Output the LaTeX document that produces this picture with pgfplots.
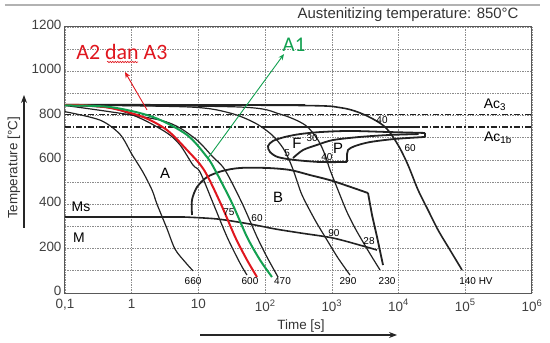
\documentclass[border=0pt]{standalone}
\usepackage{pgfplots}
\pgfplotsset{compat=1.18}
\usepackage{fontspec}
\setmainfont{Liberation Sans}
\newfontfamily\calib{Carlito}
\usetikzlibrary{arrows.meta,decorations.pathmorphing}
\definecolor{crv}{HTML}{222222}
\definecolor{lab}{HTML}{5A5A5A}
\definecolor{myred}{HTML}{E0161E}
\definecolor{mygreen}{HTML}{12A050}
\begin{document}
\begin{tikzpicture}
\useasboundingbox (-65bp,-50bp) rectangle (485bp,293bp);
\begin{axis}[
  at={(0,0)}, anchor=south west,
  scale only axis, width=467bp, height=266bp,
  xmin=-1, xmax=6, ymin=0, ymax=1200,
  xtick={-1,0,...,6},
  xticklabels={{0,1},1,10,10\textsuperscript{2},10\textsuperscript{3},10\textsuperscript{4},10\textsuperscript{5},10\textsuperscript{6}},
  ytick={0,200,...,1200},
  minor ytick={100,300,...,1100},
  grid=both,
  major grid style={draw=black!45, line width=0.7bp, dash pattern=on 1.2bp off 1.3bp},
  minor grid style={draw=black!45, line width=0.7bp, dash pattern=on 1.2bp off 1.3bp},
  tick style={draw=none},
  axis line style={draw=black!65, line width=1bp},
  tick label style={font=\fontsize{13.5}{16}\selectfont, text=black!75},
  xticklabel style={yshift=-3bp},
  yticklabel style={yshift=2bp},
  /pgf/number format/assume math mode=true,
  /pgf/number format/set thousands separator={},
  clip=true,
  every node/.append style={text=lab, font=\fontsize{12.5}{14}\selectfont},
]
% Ac lines
\addplot[crv, line width=1.5bp, dash pattern=on 6bp off 2bp on 1.5bp off 2bp] coordinates {(-1,805) (6,805)};
\addplot[crv, line width=1.8bp, dash pattern=on 6bp off 2bp on 1.5bp off 2bp] coordinates {(-1,749) (6,749)};
\addplot[crv, line width=1.8bp] coordinates {(2.0,749) (4.292,749)};
% 850 line
\addplot[crv, line width=2bp] coordinates {(-1,850) (2.6,850)};
% cooling curves
\addplot[crv, line width=1.2bp, smooth] coordinates {(-1,818) (-0.475,780) (-0.176,716) (0.004,625) (0.169,545) (0.304,465) (0.379,401) (0.529,290) (0.649,198) (0.8,140) (0.919,100)};
\addplot[crv, line width=1.2bp, smooth] coordinates {(-1,846) (-0.325,835) (0.124,789) (0.529,722) (0.724,668) (0.919,577) (1.024,546) (1.219,406) (1.429,253) (1.623,135) (1.728,81)};
\addplot[crv, line width=1.2bp, smooth] coordinates {(-1,846) (0.424,780) (0.919,704) (1.219,613) (1.398,555) (1.653,406) (1.878,253) (2.028,162) (2.193,72)};
\addplot[crv, line width=1.2bp, smooth] coordinates {(-1,848) (0.874,839) (1.473,812) (1.848,767) (2.103,713) (2.268,654) (2.373,591) (2.448,532) (2.553,442) (2.748,329) (2.927,239) (3.092,158) (3.272,81)};
\addplot[crv, line width=1.2bp, smooth] coordinates {(-1,848) (1.623,839) (2.223,807) (2.598,758) (2.793,690) (2.898,623) (2.973,555) (3.122,442) (3.227,365) (3.347,293) (3.467,230) (3.602,162) (3.722,104)};
\addplot[crv, line width=1.6bp, smooth] coordinates {(-1,850) (2.523,846) (3.152,835) (3.497,803) (3.797,749) (3.992,668) (4.142,577) (4.292,465) (4.442,374) (4.592,284) (4.771,194) (4.951,104)};
% F/P region
\addplot[crv, line width=1.8bp, smooth] coordinates {(4.397,722) (3.872,726) (3.272,731) (2.823,726) (2.523,717) (2.298,704) (2.118,686) (2.043,663) (2.073,636) (2.193,613) (2.448,600) (2.823,591) (3.227,591)};
\addplot[crv, line width=1.8bp, smooth] coordinates {(3.227,591) (3.227,613) (3.242,645) (3.347,663) (3.572,681) (3.947,695) (4.397,704)};
\addplot[crv, line width=1.8bp] coordinates {(4.397,722) (4.397,704)};
\addplot[crv, line width=1.8bp, smooth] coordinates {(2.418,609) (2.568,645) (2.778,668) (3.017,690) (3.422,704) (3.872,713) (4.3,717)};
% bainite
\addplot[crv, line width=1.8bp, smooth] coordinates {(0.904,352) (0.904,420) (0.979,478) (1.129,523) (1.353,550) (1.623,564) (2.028,564) (2.373,555) (2.673,532) (3.017,505) (3.542,451)};
\addplot[crv, line width=1.8bp] coordinates {(3.542,451) (3.602,352) (3.677,253) (3.767,126)};
% Ms
\addplot[crv, line width=2.2bp] coordinates {(-1,343) (0.769,343)};
\addplot[crv, line width=1.6bp, smooth] coordinates {(0.769,343) (1.279,334) (1.773,311) (2.148,289) (2.523,271) (3.017,248) (3.467,212) (3.677,194)};
% red / green
\addplot[myred, line width=2bp, smooth] coordinates {(-1,848) (-0.775,848) (-0.325,835) (0.169,794) (0.529,735) (0.829,645) (1.084,555) (1.33,406) (1.55,253) (1.728,149) (1.878,72)};
\addplot[mygreen, line width=2bp, smooth] coordinates {(-1,846) (-0.325,839) (0.319,794) (0.829,713) (1.129,613) (1.249,555) (1.503,406) (1.728,253) (1.923,149) (2.103,72)};
\draw[myred, line width=0.9bp, -{Stealth[length=6bp,width=5bp]}] (axis cs:0.229,826) -- (axis cs:-0.101,997);
\draw[mygreen, line width=0.9bp, -{Stealth[length=6bp,width=5bp]}] (axis cs:1.144,609) -- (axis cs:2.283,1078);
% labels
\node at (axis cs:0.919,54) {660};
\node at (axis cs:1.773,54) {600};
\node at (axis cs:2.26,54) {470};
\node at (axis cs:3.242,54) {290};
\node at (axis cs:3.827,54) {230};
\node at (axis cs:5.161,54) {140 HV};
\node at (axis cs:1.458,365) {75};
\node at (axis cs:1.878,338) {60};
\node at (axis cs:3.032,271) {90};
\node at (axis cs:3.557,235) {28};
\node at (axis cs:2.328,632) {5};
\node[font=\fontsize{15}{17}\selectfont] at (axis cs:2.478,677) {F};
\node at (axis cs:2.703,699) {30};
\node at (axis cs:2.927,613) {40};
\node[font=\fontsize{15}{17}\selectfont] at (axis cs:3.092,654) {P};
\node at (axis cs:3.752,780) {40};
\node at (axis cs:4.172,654) {60};
\node[font=\fontsize{15}{17}\selectfont] at (axis cs:0.499,541) {A};
\node[font=\fontsize{15}{17}\selectfont] at (axis cs:2.193,433) {B};
\node[font=\fontsize{14}{16}\selectfont] at (axis cs:-0.76,388) {Ms};
\node[font=\fontsize{14}{16}\selectfont] at (axis cs:-0.79,248) {M};
\node[font=\fontsize{14}{16}\selectfont] at (axis cs:5.446,850) {Ac\textsubscript{3}};
\node[font=\fontsize{14}{16}\selectfont] at (axis cs:5.49,700) {Ac\textsubscript{1b}};
\node[text=myred, font=\calib\fontsize{22}{24}\selectfont] at (axis cs:-0.146,1087) {A2 dan A3};
\node[text=mygreen, font=\calib\fontsize{21}{24}\selectfont] at (axis cs:2.433,1119) {A1};
\end{axis}
\draw[myred, line width=0.6bp, decorate, decoration={snake, amplitude=0.7bp, segment length=2.5bp}] (42bp,231bp) -- (73bp,231bp);
\node[anchor=east, text=black!80, font=\fontsize{15}{17}\selectfont] at (457bp,278bp) {Austenitizing temperature: 850°C};
\node[rotate=90, text=black!80, font=\fontsize{13.5}{16}\selectfont] at (-51bp,125bp) {Temperature [°C]};
\draw[black!85, line width=1.2bp, -{Stealth[length=8bp,width=6bp]}] (-41bp,65bp) -- (-41bp,198bp);
\node[text=black!80, font=\fontsize{13.5}{16}\selectfont] at (236bp,-33bp) {Time [s]};
\draw[black!85, line width=1.2bp, -{Stealth[length=8bp,width=6bp]}] (135bp,-42bp) -- (332bp,-42bp);
\draw[black!30, line width=1.5bp] (-60bp,288bp) -- (475bp,288bp);
\end{tikzpicture}
\end{document}
